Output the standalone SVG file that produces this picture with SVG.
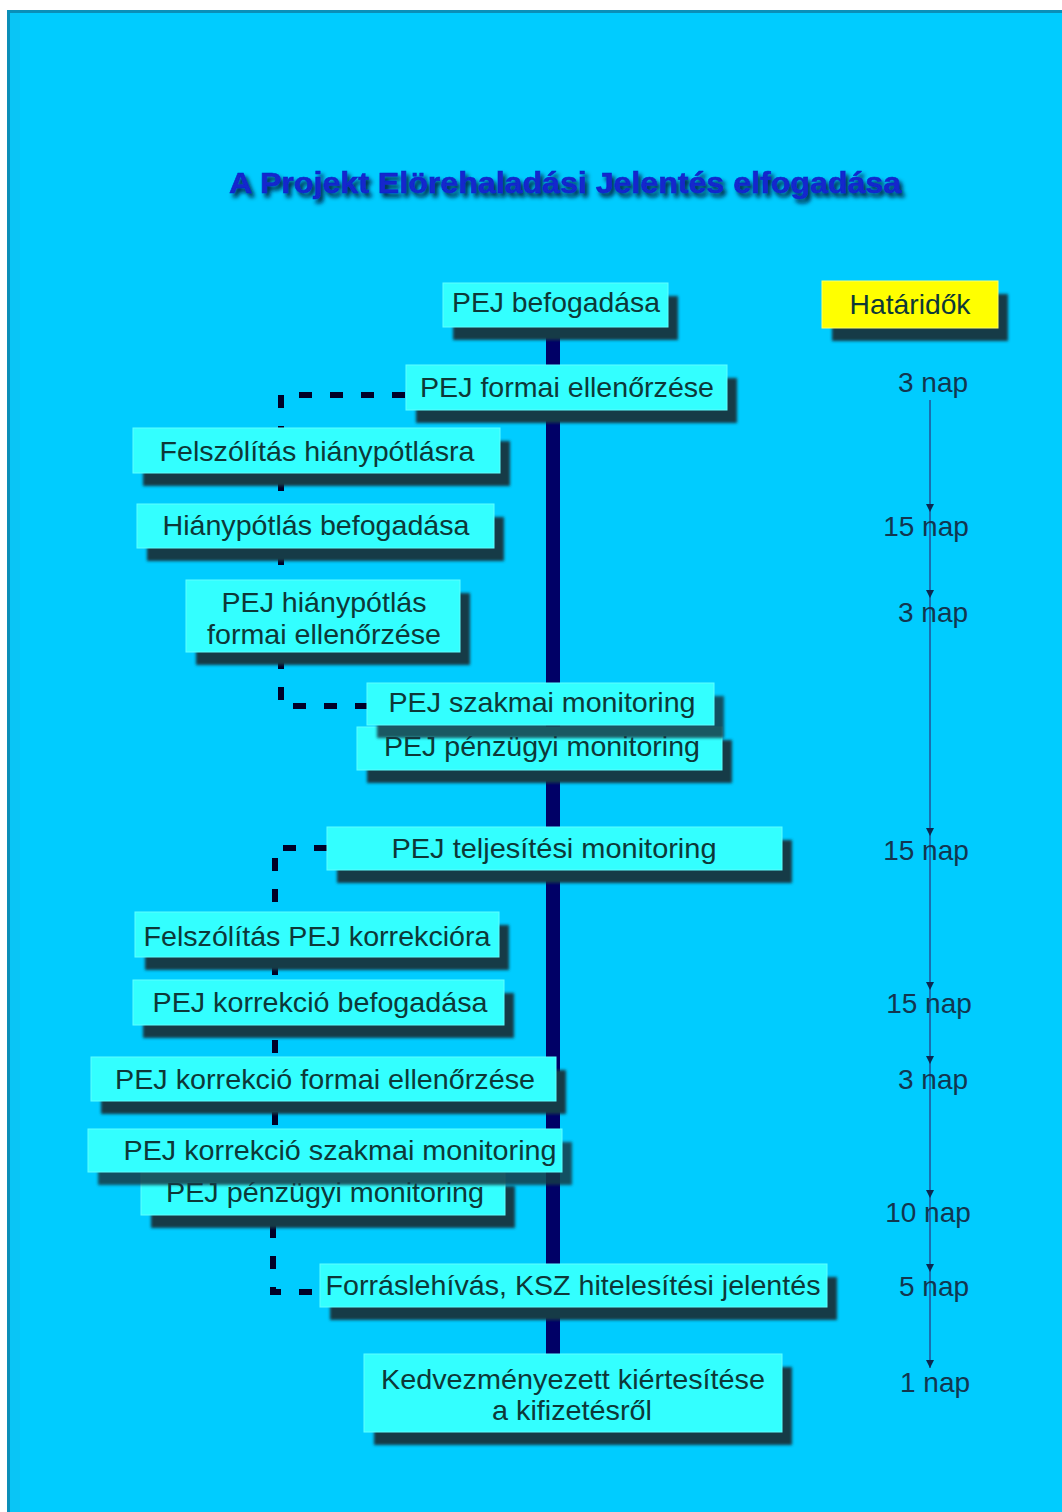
<svg xmlns="http://www.w3.org/2000/svg" width="1062" height="1512" viewBox="0 0 1062 1512">
<style>
.box{fill:#33ffff;stroke:#5fffff;stroke-width:1}
.shadow{fill:#123a46;filter:url(#blur)}
.t{font-family:"Liberation Sans",Arial,sans-serif;font-size:28px;fill:#0d3838;text-anchor:middle}
.d{font-family:"Liberation Sans",Arial,sans-serif;font-size:28px;fill:#123650;text-anchor:middle}
.dash{fill:none;stroke:#000028;stroke-width:6;stroke-dasharray:13 18}
.tl{stroke:#1a6fb0;stroke-width:2;fill:none;marker-end:url(#ah)}
</style>
<defs>
<filter id="blur" x="-10%" y="-30%" width="120%" height="160%"><feGaussianBlur stdDeviation="1.8"/></filter>
<filter id="tsh" x="-5%" y="-30%" width="110%" height="160%">
<feGaussianBlur in="SourceAlpha" stdDeviation="2"/><feOffset dx="3" dy="4" result="b"/>
<feFlood flood-color="#001030" flood-opacity="0.9"/><feComposite in2="b" operator="in"/>
<feMerge><feMergeNode/><feMergeNode in="SourceGraphic"/></feMerge>
</filter>
<marker id="ah" viewBox="0 0 8 8" refX="8" refY="4" markerWidth="8" markerHeight="8" markerUnits="userSpaceOnUse" orient="auto">
<path d="M0,0 L8,4 L0,8 Z" fill="#0b2850"/>
</marker>
</defs>
<rect x="0" y="0" width="1062" height="1512" fill="#ffffff"/>
<rect x="7" y="10" width="1055" height="1502" fill="#00ccff"/>
<rect x="7" y="10" width="1055" height="3" fill="#0a8fb8"/>
<rect x="7" y="10" width="3" height="1502" fill="#0a8fb8"/>
<rect x="10" y="13" width="10" height="1499" fill="#10c0ee" opacity="0.6"/>

<text x="565" y="193" font-family="Liberation Sans,Arial,sans-serif" font-weight="bold" font-size="30" fill="#1228cc" stroke="#1228cc" stroke-width="0.6" text-anchor="middle" textLength="672" lengthAdjust="spacingAndGlyphs" filter="url(#tsh)">A Projekt Elörehaladási Jelentés elfogadása</text>

<g id="connectors">
<rect x="546" y="320" width="14" height="1040" fill="#000066"/>
<path class="dash" d="M405,395 H281 V428"/>
<path class="dash" d="M281,478 V504"/>
<path class="dash" d="M281,552 V580"/>
<path class="dash" d="M281,656 V706 H367"/>
<path class="dash" d="M327,848 H275 V912"/>
<path class="dash" d="M275,962 V980"/>
<path class="dash" d="M275,1040 V1057"/>
<path class="dash" d="M275,1112 V1129"/>
<path class="dash" d="M273,1225 V1292 H320"/>
<path class="tl" d="M930,400 V512"/>
<path class="tl" d="M930,512 V598"/>
<path class="tl" d="M930,598 V836"/>
<path class="tl" d="M930,836 V990"/>
<path class="tl" d="M930,990 V1064"/>
<path class="tl" d="M930,1064 V1198"/>
<path class="tl" d="M930,1198 V1272"/>
<path class="tl" d="M930,1272 V1368"/>
</g>

<g id="n1"><rect class="shadow" x="453" y="296" width="225" height="44"/><rect class="box" x="443" y="283" width="225" height="44"/><text class="t" x="556" y="312" textLength="208" lengthAdjust="spacingAndGlyphs">PEJ befogadása</text></g>
<g id="hataridok"><rect class="shadow" x="832" y="294" width="176" height="47"/><rect x="822" y="281" width="176" height="47" fill="#ffff00" stroke="#ffff66"/><text class="t" x="910" y="314" textLength="121" lengthAdjust="spacingAndGlyphs">Határidők</text></g>
<g id="n2"><rect class="shadow" x="416" y="378" width="321" height="45"/><rect class="box" x="406" y="365" width="321" height="45"/><text class="t" x="567" y="397" textLength="294" lengthAdjust="spacingAndGlyphs">PEJ formai ellenőrzése</text></g>
<g id="n3"><rect class="shadow" x="143" y="441" width="367" height="45"/><rect class="box" x="133" y="428" width="367" height="45"/><text class="t" x="317" y="461" textLength="315" lengthAdjust="spacingAndGlyphs">Felszólítás hiánypótlásra</text></g>
<g id="n4"><rect class="shadow" x="147" y="517" width="357" height="44"/><rect class="box" x="137" y="504" width="357" height="44"/><text class="t" x="316" y="535" textLength="307" lengthAdjust="spacingAndGlyphs">Hiánypótlás befogadása</text></g>
<g id="n5"><rect class="shadow" x="196" y="593" width="274" height="72"/><rect class="box" x="186" y="580" width="274" height="72"/><text class="t" x="324" y="612" textLength="205" lengthAdjust="spacingAndGlyphs">PEJ hiánypótlás</text><text class="t" x="324" y="644" textLength="234" lengthAdjust="spacingAndGlyphs">formai ellenőrzése</text></g>
<g id="n7"><rect class="shadow" x="367" y="740" width="365" height="43"/><rect class="box" x="357" y="727" width="365" height="43"/><text class="t" x="542" y="756" textLength="316" lengthAdjust="spacingAndGlyphs">PEJ pénzügyi monitoring</text></g>
<g id="n6"><rect class="shadow" x="377" y="696" width="347" height="42" opacity="0.85"/><rect class="box" x="367" y="683" width="347" height="42"/><text class="t" x="542" y="712" textLength="307" lengthAdjust="spacingAndGlyphs">PEJ szakmai monitoring</text></g>
<g id="n8"><rect class="shadow" x="337" y="840" width="455" height="43"/><rect class="box" x="327" y="827" width="455" height="43"/><text class="t" x="554" y="858" textLength="325" lengthAdjust="spacingAndGlyphs">PEJ teljesítési monitoring</text></g>
<g id="n9"><rect class="shadow" x="145" y="925" width="364" height="45"/><rect class="box" x="135" y="912" width="364" height="45"/><text class="t" x="317" y="946" textLength="347" lengthAdjust="spacingAndGlyphs">Felszólítás PEJ korrekcióra</text></g>
<g id="n10"><rect class="shadow" x="143" y="993" width="371" height="45"/><rect class="box" x="133" y="980" width="371" height="45"/><text class="t" x="320" y="1012" textLength="335" lengthAdjust="spacingAndGlyphs">PEJ korrekció befogadása</text></g>
<g id="n11"><rect class="shadow" x="101" y="1070" width="465" height="44"/><rect class="box" x="91" y="1057" width="465" height="44"/><text class="t" x="325" y="1089" textLength="420" lengthAdjust="spacingAndGlyphs">PEJ korrekció formai ellenőrzése</text></g>
<g id="n13"><rect class="shadow" x="151" y="1186" width="364" height="42"/><rect class="box" x="141" y="1173" width="364" height="42"/><text class="t" x="325" y="1202" textLength="318" lengthAdjust="spacingAndGlyphs">PEJ pénzügyi monitoring</text></g>
<g id="n12"><rect class="shadow" x="98" y="1142" width="474" height="43" opacity="0.85"/><rect class="box" x="88" y="1129" width="474" height="43"/><text class="t" x="340" y="1160" textLength="433" lengthAdjust="spacingAndGlyphs">PEJ korrekció szakmai monitoring</text></g>
<g id="n14"><rect class="shadow" x="330" y="1277" width="507" height="43"/><rect class="box" x="320" y="1264" width="507" height="43"/><text class="t" x="573" y="1295" textLength="495" lengthAdjust="spacingAndGlyphs">Forráslehívás, KSZ hitelesítési jelentés</text></g>
<g id="n15"><rect class="shadow" x="374" y="1367" width="418" height="78"/><rect class="box" x="364" y="1354" width="418" height="78"/><text class="t" x="573" y="1389" textLength="384" lengthAdjust="spacingAndGlyphs">Kedvezményezett kiértesítése</text><text class="t" x="572" y="1420" textLength="160" lengthAdjust="spacingAndGlyphs">a kifizetésről</text></g>

<g id="deadlines">
<text class="d" x="933" y="392">3 nap</text>
<text class="d" x="926" y="536">15 nap</text>
<text class="d" x="933" y="622">3 nap</text>
<text class="d" x="926" y="860">15 nap</text>
<text class="d" x="929" y="1013">15 nap</text>
<text class="d" x="933" y="1089">3 nap</text>
<text class="d" x="928" y="1222">10 nap</text>
<text class="d" x="934" y="1296">5 nap</text>
<text class="d" x="935" y="1392">1 nap</text>
</g>
</svg>
